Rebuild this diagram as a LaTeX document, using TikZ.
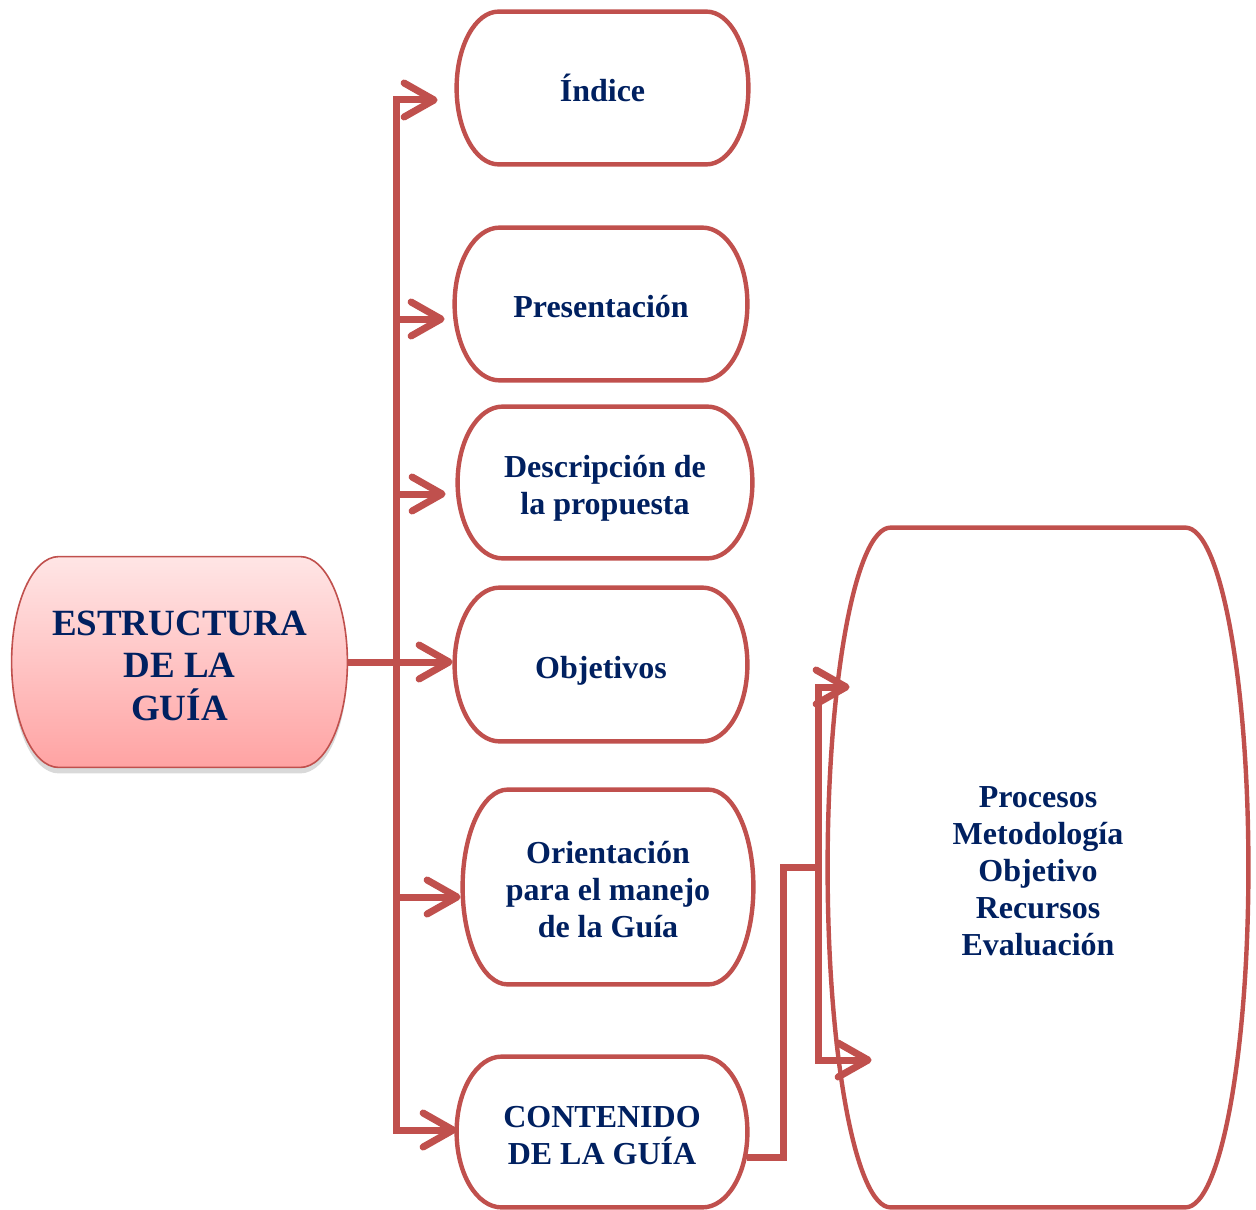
\documentclass[tikz,border=0pt]{standalone}
\usepackage{fontspec}
\setmainfont{Liberation Serif}
\usetikzlibrary{arrows.meta, calc, shadows, backgrounds}
\definecolor{linkred}{HTML}{C0504D}
\definecolor{textnavy}{HTML}{002060}
\newcommand{\topstrut}{\rule{0pt}{1.094em}}

\begin{document}
\begin{tikzpicture}[x=0.5pt, y=-0.5pt,
  box/.style={rectangle, inner sep=0pt, align=center, text=textnavy, font=\fontsize{16}{18.5}\selectfont\bfseries,
    execute at end node={\rule[-0.25em]{0pt}{0pt}}},
  boxline/.style={draw=linkred, line width=2.2pt},
  estline/.style={draw=linkred, line width=0.8pt, top color=red!10, bottom color=red!36,
    drop shadow={shadow xshift=0pt, shadow yshift=-3pt, opacity=0.3}},
  link/.style={draw=linkred, line width=3.5pt, line join=miter},
  arr/.style={link, -{Straight Barb[length=15pt, width=17pt, line width=3.5pt, round]}},
]
  \useasboundingbox (0,0) rectangle (1256,1209);

  % Main box
  \node[box, minimum width=167.5pt, minimum height=105pt, font=\fontsize{18.5}{21.25}\selectfont\bfseries] (est) at (179.5,662) {\topstrut ESTRUCTURA\\DE LA\\GUÍA};

  % Parts of the guide
  \node[box, minimum width=145.5pt, minimum height=76pt] (idx) at (602.5,88) {\topstrut Índice};
  \node[box, minimum width=146pt, minimum height=76pt] (pres) at (601,304) {\topstrut Presentación};
  \node[box, minimum width=147pt, minimum height=75.5pt] (desc) at (605,482.5) {\topstrut Descripción de\\la propuesta};
  \node[box, minimum width=146pt, minimum height=76.5pt] (obj) at (601,664.5) {\topstrut Objetivos};
  \node[box, minimum width=145pt, minimum height=97pt] (ori) at (608,887) {\topstrut Orientación\\para el manejo\\de la Guía};
  \node[box, minimum width=145pt, minimum height=75pt] (cont) at (602,1132) {\topstrut CONTENIDO\\DE LA GUÍA};

  % Contents of the guide
  \node[box, minimum width=210pt, minimum height=339.5pt] (big) at (1038,867.5) {\topstrut Procesos\\Metodología\\Objetivo\\Recursos\\Evaluación};

  % Outlines with elliptical ends
  \begin{scope}[on background layer]
    \foreach \b/\rx/\st in {est/47/estline, idx/42/boxline, pres/45/boxline, desc/45/boxline,
                            obj/45/boxline, ori/45/boxline, cont/45/boxline, big/63/boxline}
      \draw[\st] let \p1=(\b.north west), \p2=(\b.south east), \n1={(\y1-\y2)/2} in
        ($(\p1)+(\rx,0)$) -- ($(\x2,\y1)+(-\rx,0)$)
        arc[start angle=90, end angle=-90, x radius=\rx*0.5pt, y radius=\n1]
        -- ($(\x1,\y2)+(\rx,0)$)
        arc[start angle=270, end angle=90, x radius=\rx*0.5pt, y radius=\n1] -- cycle;
  \end{scope}

  % Trunk and branches
  \coordinate (t1) at (396,100);
  \coordinate (t2) at (396,319);
  \coordinate (t3) at (396,494);
  \coordinate (t5) at (396,897);
  \coordinate (t6) at (396,1130);
  \draw[link, line cap=rect] (t1) -- (t6);
  \draw[arr, shorten >=9.5pt] (t1) -- (t1 -| idx.west);
  \draw[arr, shorten >=5pt] (t2) -- (t2 -| pres.west);
  \draw[arr, shorten >=6pt] (t3) -- (t3 -| desc.west);
  \draw[arr, shorten >=1pt] (t5) -- (t5 -| ori.west);
  \draw[arr] (t6) -- (t6 -| cont.west);
  \draw[arr, shorten >=1pt] (est.east) -- (est.east -| obj.west);

  % Fork to the contents
  \coordinate (fork) at (818,867);
  \coordinate (ftop) at (818,687);
  \coordinate (fbot) at (818,1060);
  \draw[link] ([yshift=-12.5pt]cont.east) -| ([xshift=-17.5pt]fork) -- (fork);
  \draw[link, line cap=rect] (ftop) -- (fbot);
  \draw[arr, shorten >=-11pt] (ftop) -- (ftop -| big.west);
  \draw[arr, shorten >=-22pt] (fbot) -- (fbot -| big.west);
\end{tikzpicture}
\end{document}
